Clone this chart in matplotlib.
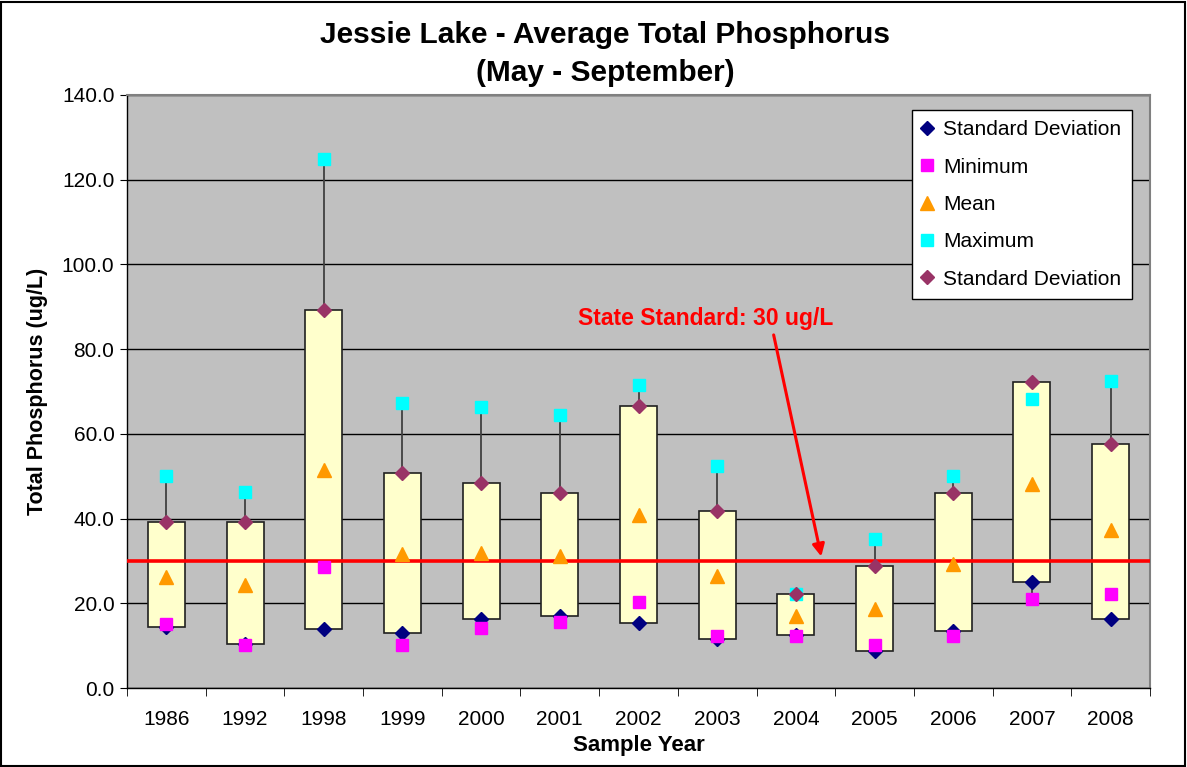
import matplotlib
matplotlib.use("Agg")
import matplotlib.pyplot as plt
from matplotlib.patches import Rectangle

plt.rcParams['font.family'] = ['Liberation Sans', 'DejaVu Sans']

years = ["1986", "1992", "1998", "1999", "2000", "2001", "2002",
         "2003", "2004", "2005", "2006", "2007", "2008"]
sd_low = [14.4, 10.3, 13.9, 13.0, 16.2, 17.1, 15.3, 11.6, 12.5, 8.7, 13.4, 25.0, 16.4]
minimum = [15.1, 10.1, 28.6, 10.1, 14.2, 15.6, 20.2, 12.3, 12.3, 10.1, 12.3, 21.1, 22.1]
mean = [26.3, 24.2, 51.5, 31.6, 31.9, 31.1, 40.8, 26.4, 17.1, 18.6, 29.2, 48.1, 37.2]
maximum = [50.0, 46.3, 124.9, 67.2, 66.3, 64.5, 71.5, 52.3, 22.2, 35.1, 50.0, 68.2, 72.4]
sd_high = [39.1, 39.1, 89.2, 50.7, 48.3, 46.0, 66.5, 41.8, 22.3, 28.8, 46.0, 72.2, 57.6]
state_standard = 30.0

fig = plt.figure(figsize=(11.87, 7.67), dpi=100)
ax = fig.add_axes([127 / 1187, 1 - 688 / 767, 1023 / 1187, 593 / 767])
ax.set_facecolor("#C0C0C0")

x = list(range(len(years)))

# high-low lines behind the boxes
for xi, lo, hi in zip(x, minimum, maximum):
    ax.plot([xi, xi], [lo, hi], color="#404040", lw=1.3, zorder=2)

# standard deviation boxes
box_w = 0.47
for xi, lo, hi in zip(x, sd_low, sd_high):
    ax.add_patch(Rectangle((xi - box_w / 2, lo), box_w, hi - lo,
                           facecolor="#FFFFCC", edgecolor="#202020", lw=1.2, zorder=3))

ax.axhline(state_standard, color="#FF0000", lw=2.6, zorder=4)

ms = 8.5
ax.plot(x, sd_low, "D", color="#000080", ms=7.5, ls="none", zorder=5, label="Standard Deviation")
ax.plot(x, minimum, "s", color="#FF00FF", ms=ms, ls="none", zorder=6, label="Minimum")
ax.plot(x, mean, "^", color="#FF9900", ms=10, ls="none", zorder=6, label="Mean")
ax.plot(x, maximum, "s", color="#00FFFF", ms=ms, ls="none", zorder=5, label="Maximum")
ax.plot(x, sd_high, "D", color="#993366", ms=7.5, ls="none", zorder=6, label="Standard Deviation")

ax.set_xlim(-0.5, len(years) - 0.5)
ax.set_ylim(0, 140)
ax.set_yticks(range(0, 141, 20))
ax.set_yticklabels([f"{v:.1f}" for v in range(0, 141, 20)], fontsize=15)
ax.yaxis.grid(True, color="black", lw=1.0)
ax.set_axisbelow(True)

ax.set_xticks(x)
ax.set_xticklabels(years, fontsize=15)
ax.tick_params(axis="x", length=0, pad=16)
ax.set_xticks([i - 0.5 for i in range(len(years) + 1)], minor=True)
ax.tick_params(axis="x", which="minor", length=6, color="black")
ax.tick_params(axis="y", length=5, color="black", pad=4)

for side in ["top", "right"]:
    ax.spines[side].set_color("#808080")
    ax.spines[side].set_linewidth(1.5)
for side in ["left", "bottom"]:
    ax.spines[side].set_color("black")
    ax.spines[side].set_linewidth(1.0)

ax.set_xlabel("Sample Year", fontsize=16, fontweight="bold", labelpad=4)
ax.set_ylabel("Total Phosphorus (ug/L)", fontsize=15.5, fontweight="bold", labelpad=10)

fig.text(605 / 1187, 1 - 35 / 767, "Jessie Lake - Average Total Phosphorus",
         ha="center", va="center", fontsize=21.5, fontweight="bold")
fig.text(605 / 1187, 1 - 73 / 767, "(May - September)",
         ha="center", va="center", fontsize=21.5, fontweight="bold")

ax.text(6.86, 87.3, "State Standard: 30 ug/L", color="#FF0000", fontsize=16.5,
        fontweight="bold", ha="center", va="center", zorder=7)
ax.annotate("", xy=(8.33, 30.4), xytext=(7.71, 84.0),
            arrowprops=dict(arrowstyle="-|>", color="#FF0000", lw=2.2,
                            mutation_scale=18), zorder=7)

leg = ax.legend(loc="upper right", bbox_to_anchor=(0.982, 0.975), fontsize=15,
                frameon=True, fancybox=False, edgecolor="black", framealpha=1,
                handlelength=0.5, handletextpad=0.5, labelspacing=0.88,
                borderpad=0.5, borderaxespad=0, markerscale=0.95)
leg.get_frame().set_linewidth(1.0)

fig.patches.append(Rectangle((0.001, 0.001), 0.997, 0.997, transform=fig.transFigure,
                             fill=False, edgecolor="black", lw=1.5))

fig.savefig("out.png", dpi=100)
